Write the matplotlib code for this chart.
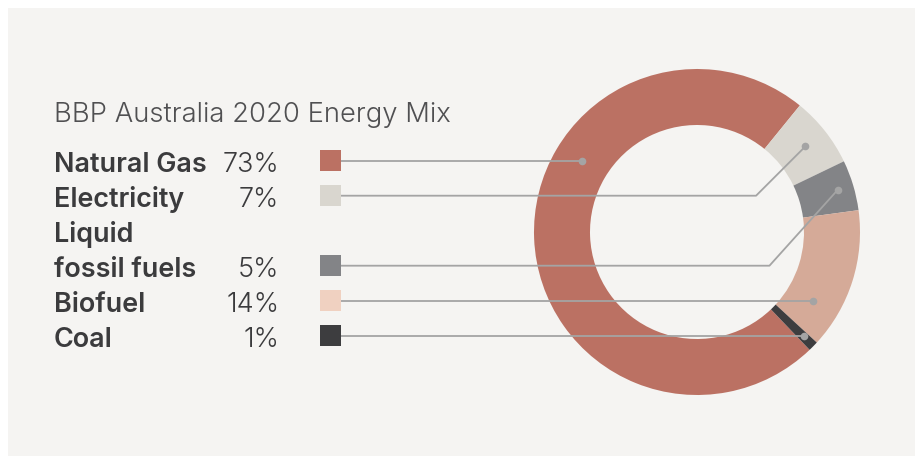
import numpy as np
import matplotlib
matplotlib.use("Agg")
import matplotlib.pyplot as plt
from matplotlib.patches import Rectangle

# ---------------- data ----------------
title = "BBP Australia 2020 Energy Mix"
categories = ["Natural Gas", "Electricity", "Liquid\nfossil fuels", "Biofuel", "Coal"]
values = [73, 7, 5, 14, 1]
pct_labels = ["73%", "7%", "5%", "14%", "1%"]
ring_colors = ["#bb7163", "#d9d6cf", "#838487", "#d5aa98", "#3d3d3f"]
swatch_colors = ["#bb7163", "#d9d6cf", "#838487", "#f0d1c1", "#3d3d3f"]

# ---------------- layout (pixels) ----------------
W, H = 919, 459
BG = "#f5f4f2"
TEXT = "#3b3b3d"
LEADER = "#a4a4a4"
cx, cy = 697, 232          # donut centre (image coords, y down)
R_out, R_in = 163, 107
start_cw = 136.3           # clockwise degrees from 12 o'clock where the first wedge starts
row0, row_step = 171.7, 35.0
x_text, x_pct = 54, 279
sq_x, sq_size = 320, 21
# leader style per category: (mode, radius, diagonal slope dx/dy)
leader_style = [("straight", 135, 1.0), ("elbow", 138, 1.0), ("elbow", 147, 0.9),
                ("straight", 135, 1.0), ("straight", 149, 1.0)]

fig = plt.figure(figsize=(W / 100, H / 100), dpi=100)
fig.patch.set_facecolor("white")
ax = fig.add_axes([0, 0, 1, 1])

def Y(y):
    return H - y

# background panel
ax.add_patch(Rectangle((8, Y(456)), 907, 448, facecolor=BG, edgecolor="none", zorder=0))

# donut
wedges, _ = ax.pie(values, colors=ring_colors, startangle=90 - start_cw, counterclock=False,
                   radius=R_out, center=(cx, Y(cy)),
                   wedgeprops=dict(width=R_out - R_in, linewidth=0, antialiased=True))
for w in wedges:
    w.set_zorder(2)
ax.set_xlim(0, W)
ax.set_ylim(0, H)
ax.set_aspect("auto")
ax.axis("off")

FONT = ["Inter", "DejaVu Sans"]

ax.text(x_text, Y(121.7), title, fontsize=19.75, fontweight=300, color="#505052",
        family=FONT, ha="left", va="baseline")

# cumulative angles
fr = np.array(values, dtype=float) / np.sum(values)
ends = start_cw + 360 * np.cumsum(fr)
starts = ends - 360 * fr
mids = (starts + ends) / 2

row = 0
for i, cat in enumerate(categories):
    lines = cat.split("\n")
    for ln in lines:
        ax.text(x_text, Y(row0 + row * row_step), ln, fontsize=19.4, fontweight=600,
                color=TEXT, family=FONT, ha="left", va="baseline")
        row += 1
    base = row0 + (row - 1) * row_step
    ax.text(x_pct, Y(base), pct_labels[i], fontsize=19.5, fontweight=300,
            color=TEXT, family=FONT, ha="right", va="baseline")
    yc = base - 11
    ax.add_patch(Rectangle((sq_x, Y(yc + sq_size / 2)), sq_size, sq_size,
                           facecolor=swatch_colors[i], edgecolor="none", zorder=3))
    mode, r, slope = leader_style[i]
    ang = np.radians(mids[i])
    if mode == "straight":
        dy = yc - cy
        dx = np.sqrt(r ** 2 - dy ** 2)
        sign = 1 if np.sin(ang) >= 0 else -1
        dot_x, dot_y = cx + sign * dx, yc
        xs, ys = [sq_x + sq_size, dot_x], [yc, dot_y]
    else:
        dot_x = cx + r * np.sin(ang)
        dot_y = cy - r * np.cos(ang)
        elbow_x = dot_x - slope * (yc - dot_y)
        xs, ys = [sq_x + sq_size, elbow_x, dot_x], [yc, yc, dot_y]
    ax.plot(xs, [Y(v) for v in ys], color=LEADER, lw=1.3, zorder=4, solid_capstyle="butt")
    ax.plot([dot_x], [Y(dot_y)], "o", color=LEADER, ms=5.5, mew=0, zorder=5)

fig.savefig("out.png", dpi=100, facecolor="white")
